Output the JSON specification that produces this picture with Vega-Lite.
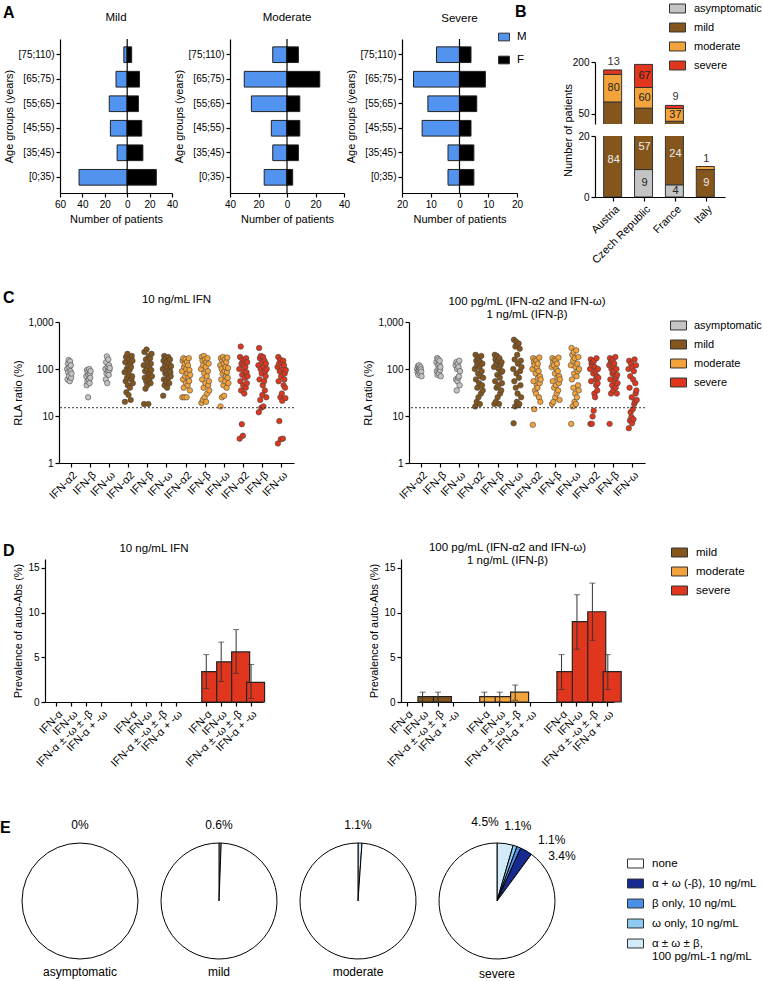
{
"$schema":"https://vega.github.io/schema/vega-lite/v6.json",
"background":"white",
"padding":{"left":0,"top":0,"right":0,"bottom":0},
"config":{
 "font":"Liberation Sans",
 "view":{"stroke":null},
 "axis":{"grid":false,"domainColor":"#000","domainWidth":1.2,"tickColor":"#000","tickWidth":1.2,"tickSize":4,"labelColor":"#000","titleColor":"#000","labelFontSize":10,"titleFontSize":11,"titleFontWeight":"normal","labelPadding":2,"titlePadding":4,"labelOverlap":false,"labelFont":"Liberation Sans","titleFont":"Liberation Sans"},
 "legend":{"labelFont":"Liberation Sans","labelFontSize":11.5,"labelColor":"#000","symbolStrokeColor":"#333","symbolStrokeWidth":1,"rowPadding":4,"labelOffset":8,"symbolType":"M-1,-0.56H1V0.56H-1Z","symbolSize":256},
 "title":{"font":"Liberation Sans","fontSize":11.5,"fontWeight":"normal","color":"#000","offset":5,"lineHeight":13},
 "text":{"font":"Liberation Sans"}
},
"datasets":{
 "pyr":[
  {"s":"Mild","a":"[75;110)","g":"M","n":3},{"s":"Mild","a":"[75;110)","g":"F","n":4},
  {"s":"Mild","a":"[65;75)","g":"M","n":10},{"s":"Mild","a":"[65;75)","g":"F","n":11},
  {"s":"Mild","a":"[55;65)","g":"M","n":16},{"s":"Mild","a":"[55;65)","g":"F","n":10},
  {"s":"Mild","a":"[45;55)","g":"M","n":15},{"s":"Mild","a":"[45;55)","g":"F","n":13},
  {"s":"Mild","a":"[35;45)","g":"M","n":9},{"s":"Mild","a":"[35;45)","g":"F","n":14},
  {"s":"Mild","a":"[0;35)","g":"M","n":43},{"s":"Mild","a":"[0;35)","g":"F","n":26},
  {"s":"Moderate","a":"[75;110)","g":"M","n":10},{"s":"Moderate","a":"[75;110)","g":"F","n":8},
  {"s":"Moderate","a":"[65;75)","g":"M","n":30},{"s":"Moderate","a":"[65;75)","g":"F","n":23},
  {"s":"Moderate","a":"[55;65)","g":"M","n":25},{"s":"Moderate","a":"[55;65)","g":"F","n":9},
  {"s":"Moderate","a":"[45;55)","g":"M","n":11},{"s":"Moderate","a":"[45;55)","g":"F","n":9},
  {"s":"Moderate","a":"[35;45)","g":"M","n":10},{"s":"Moderate","a":"[35;45)","g":"F","n":8},
  {"s":"Moderate","a":"[0;35)","g":"M","n":16},{"s":"Moderate","a":"[0;35)","g":"F","n":4},
  {"s":"Severe","a":"[75;110)","g":"M","n":8},{"s":"Severe","a":"[75;110)","g":"F","n":4},
  {"s":"Severe","a":"[65;75)","g":"M","n":16},{"s":"Severe","a":"[65;75)","g":"F","n":9},
  {"s":"Severe","a":"[55;65)","g":"M","n":11},{"s":"Severe","a":"[55;65)","g":"F","n":6},
  {"s":"Severe","a":"[45;55)","g":"M","n":13},{"s":"Severe","a":"[45;55)","g":"F","n":4},
  {"s":"Severe","a":"[35;45)","g":"M","n":4},{"s":"Severe","a":"[35;45)","g":"F","n":5},
  {"s":"Severe","a":"[0;35)","g":"M","n":4},{"s":"Severe","a":"[0;35)","g":"F","n":5}
 ],
 "cty":[
  {"c":"Austria","sev":"mild","n":84},{"c":"Austria","sev":"moderate","n":80},{"c":"Austria","sev":"severe","n":13},
  {"c":"Czech Republic","sev":"asymptomatic","n":9},{"c":"Czech Republic","sev":"mild","n":57},{"c":"Czech Republic","sev":"moderate","n":60},{"c":"Czech Republic","sev":"severe","n":67},
  {"c":"France","sev":"asymptomatic","n":4},{"c":"France","sev":"mild","n":24},{"c":"France","sev":"moderate","n":37},{"c":"France","sev":"severe","n":9},
  {"c":"Italy","sev":"mild","n":9},{"c":"Italy","sev":"moderate","n":1}
 ],
 "rla":[
  {"p":"a","sev":"asymptomatic","ifn":"IFN-α2","v":[100,60,130,85,155,70,110,55,145,90,120,65,80]},
  {"p":"a","sev":"asymptomatic","ifn":"IFN-β","v":[70,45,95,55,85,25,75,60,100,50,80,65,90]},
  {"p":"a","sev":"asymptomatic","ifn":"IFN-ω","v":[100,60,140,80,185,50,110,90,160,75,120,95,105]},
  {"p":"a","sev":"mild","ifn":"IFN-α2","v":[85,20,140,55,180,32,100,65,210,45,120,28,75,160,95,40,130,22,110,60,190,70,150,50]},
  {"p":"a","sev":"mild","ifn":"IFN-β","v":[120,18,230,65,90,38,160,55,260,100,45,140,75,18,190,110,60,80,170,50,130,95,210,70]},
  {"p":"a","sev":"mild","ifn":"IFN-ω","v":[100,27,150,60,190,45,120,80,170,55,90,140,40,110,75,180,65,130,50,95,160,85,70,115]},
  {"p":"a","sev":"moderate","ifn":"IFN-α2","v":[90,25,150,60,170,40,110,25,130,70,160,50,100,25,140,80,45,120,65,170,55,95,35,75]},
  {"p":"a","sev":"moderate","ifn":"IFN-β","v":[100,19,180,60,150,22,120,40,190,80,25,160,50,110,20,140,70,30,170,90,45,130,55,35]},
  {"p":"a","sev":"moderate","ifn":"IFN-ω","v":[120,16,170,60,100,25,150,80,180,45,130,27,90,160,55,110,70,140,40,85,175,65,105,50]},
  {"p":"a","sev":"severe","ifn":"IFN-α2","v":[100,3.3,180,55,300,35,130,6.7,75,160,3.8,45,120,90,30,150,65,110,40,170,85,50,140,70]},
  {"p":"a","sev":"severe","ifn":"IFN-β","v":[120,12,280,60,170,22,100,190,15,80,140,28,45,180,16,110,55,150,35,90,70,130,25,100]},
  {"p":"a","sev":"severe","ifn":"IFN-ω","v":[110,2.6,180,55,130,7.8,90,160,25,3.2,70,140,30,21,100,3.3,150,45,120,60,80,40,24,95]},
  {"p":"b","sev":"asymptomatic","ifn":"IFN-α2","v":[100,85,115,75,95,120,90,105,80,110,98,88,70]},
  {"p":"b","sev":"asymptomatic","ifn":"IFN-β","v":[140,90,170,75,120,160,100,80,130,150,95,110,70]},
  {"p":"b","sev":"asymptomatic","ifn":"IFN-ω","v":[120,60,140,35,100,55,130,65,110,70,150,45,90]},
  {"p":"b","sev":"mild","ifn":"IFN-α2","v":[100,16,200,60,150,20,120,40,180,80,25,160,50,110,18,140,70,30,190,90,45,130,35,65]},
  {"p":"b","sev":"mild","ifn":"IFN-β","v":[110,18,200,55,160,20,130,40,190,75,25,150,45,100,18,170,65,30,120,85,35,140,50,90]},
  {"p":"b","sev":"mild","ifn":"IFN-ω","v":[100,7,420,55,160,16,300,40,380,80,20,200,30,130,17,350,65,18,270,90,45,150,25,110]},
  {"p":"b","sev":"moderate","ifn":"IFN-α2","v":[100,6.5,170,55,140,14,120,35,160,80,30,150,45,110,40,130,65,90,25,175,50,70,20,60]},
  {"p":"b","sev":"moderate","ifn":"IFN-β","v":[110,18,170,55,140,20,120,40,160,80,25,150,45,100,30,130,65,90,35,175,50,70,22,60]},
  {"p":"b","sev":"moderate","ifn":"IFN-ω","v":[120,6.8,280,60,200,16,150,40,230,80,20,170,30,110,18,250,70,25,130,90,45,180,35,100]},
  {"p":"b","sev":"severe","ifn":"IFN-α2","v":[100,6.8,160,55,130,6.8,120,9.8,140,80,13,150,30,110,25,90,60,45,170,70,35,50,100,65]},
  {"p":"b","sev":"severe","ifn":"IFN-β","v":[120,6.8,170,60,140,30,100,150,45,80,160,35,110,90,130,55,70,180,40,65,100,30,75,50]},
  {"p":"b","sev":"severe","ifn":"IFN-ω","v":[100,5.5,150,40,8,70,12,130,9.5,25,7,110,14,60,8.5,90,18,160,20,50,30,120,35,22]}
 ],
 "prev":[
  {"p":"a","sev":"severe","ifn":"IFN-α","v":3.4,"lo":1.5,"hi":5.3},
  {"p":"a","sev":"severe","ifn":"IFN-ω","v":4.5,"lo":2.3,"hi":6.7},
  {"p":"a","sev":"severe","ifn":"IFN-α ± -ω ± -β","v":5.6,"lo":3.2,"hi":8.1},
  {"p":"a","sev":"severe","ifn":"IFN-α + -ω","v":2.2,"lo":0.4,"hi":4.2},
  {"p":"b","sev":"mild","ifn":"IFN-ω","v":0.6,"lo":0,"hi":1.1},
  {"p":"b","sev":"mild","ifn":"IFN-α ± -ω ± -β","v":0.6,"lo":0,"hi":1.1},
  {"p":"b","sev":"moderate","ifn":"IFN-α","v":0.6,"lo":0,"hi":1.1},
  {"p":"b","sev":"moderate","ifn":"IFN-ω","v":0.6,"lo":0,"hi":1.1},
  {"p":"b","sev":"moderate","ifn":"IFN-α ± -ω ± -β","v":1.1,"lo":0.2,"hi":1.9},
  {"p":"b","sev":"severe","ifn":"IFN-α","v":3.4,"lo":1.4,"hi":5.3},
  {"p":"b","sev":"severe","ifn":"IFN-ω","v":9.0,"lo":5.9,"hi":12.0},
  {"p":"b","sev":"severe","ifn":"IFN-α ± -ω ± -β","v":10.1,"lo":6.9,"hi":13.3},
  {"p":"b","sev":"severe","ifn":"IFN-α + -ω","v":3.4,"lo":1.4,"hi":5.3}
 ],
 "pie":[
  {"s":"asymptomatic","cat":"none","n":100,"o":5},
  {"s":"mild","cat":"α ± ω ± β, 100 pg/mL-1 ng/mL","n":0.6,"o":1},{"s":"mild","cat":"none","n":99.4,"o":5},
  {"s":"moderate","cat":"α ± ω ± β, 100 pg/mL-1 ng/mL","n":1.1,"o":1},{"s":"moderate","cat":"none","n":98.9,"o":5},
  {"s":"severe","cat":"α ± ω ± β, 100 pg/mL-1 ng/mL","n":4.5,"o":1},
  {"s":"severe","cat":"ω only, 10 ng/mL","n":1.1,"o":2},
  {"s":"severe","cat":"β only, 10 ng/mL","n":1.1,"o":3},
  {"s":"severe","cat":"α + ω (-β), 10 ng/mL","n":3.4,"o":4},
  {"s":"severe","cat":"none","n":89.9,"o":5}
 ]
},
"resolve":{"scale":{"color":"independent"},"legend":{"color":"independent"}},
"spacing":40,
"vconcat":[
{
 "spacing":23,
 "resolve":{"scale":{"color":"independent"},"legend":{"color":"independent"}},
 "vconcat":[
 {
  "spacing":-20,
  "resolve":{"scale":{"color":"independent"},"legend":{"color":"independent"}},
  "hconcat":[
  {"width":1,"height":1,"data":{"values":[{}]},"mark":{"type":"text"},"encoding":{"text":{"value":""}}},
  {
  "spacing":-12,
  "resolve":{"scale":{"color":"independent"},"legend":{"color":"independent"}},
  "hconcat":[
   {
    "title":{"text":"A","anchor":"start","fontSize":16,"fontWeight":"bold","offset":-9},
    "spacing":-5,
    "resolve":{"scale":{"color":"independent"},"legend":{"color":"independent"}},
    "hconcat":[
     {"width":112,"height":154,"title":{"text":"Mild","offset":15,"frame":"group"},
      "layer":[
       {"data":{"name":"pyr"},"transform":[{"filter":"datum.s=='Mild'"},{"calculate":"datum.g=='M'?-datum.n:datum.n","as":"x"}],
        "mark":{"type":"bar","stroke":"#222","strokeWidth":1},
        "encoding":{
         "y":{"field":"a","type":"nominal","sort":["[75;110)","[65;75)","[55;65)","[45;55)","[35;45)","[0;35)"],"scale":{"paddingInner":0.36,"paddingOuter":0.32},"axis":{"title":"Age groups (years)","labelAngle":0}},
         "x":{"field":"x","type":"quantitative","scale":{"domain":[-60,40]},"axis":{"values":[-60,-40,-20,0,20,40],"labelExpr":"'' + abs(datum.value)","labelOverlap":false,"labelFlush":false,"title":"Number of patients"}},
         "color":{"field":"g","type":"nominal","scale":{"domain":["M","F"],"range":["#5393f0","#000000"]},"legend":null}}},
       {"data":{"values":[{}]},"mark":{"type":"rule","color":"#000","strokeWidth":1.2},"encoding":{"x":{"datum":0,"type":"quantitative","axis":{"values":[-60,-40,-20,0,20,40],"labelExpr":"'' + abs(datum.value)","labelOverlap":false,"labelFlush":false,"title":"Number of patients"}}}}
      ]},
     {"width":114,"height":154,"title":{"text":"Moderate","offset":15,"frame":"group"},
      "layer":[
       {"data":{"name":"pyr"},"transform":[{"filter":"datum.s=='Moderate'"},{"calculate":"datum.g=='M'?-datum.n:datum.n","as":"x"}],
        "mark":{"type":"bar","stroke":"#222","strokeWidth":1},
        "encoding":{
         "y":{"field":"a","type":"nominal","sort":["[75;110)","[65;75)","[55;65)","[45;55)","[35;45)","[0;35)"],"scale":{"paddingInner":0.36,"paddingOuter":0.32},"axis":{"title":"Age groups (years)","labelAngle":0}},
         "x":{"field":"x","type":"quantitative","scale":{"domain":[-40,40]},"axis":{"values":[-40,-20,0,20,40],"labelExpr":"'' + abs(datum.value)","labelOverlap":false,"labelFlush":false,"title":"Number of patients"}},
         "color":{"field":"g","type":"nominal","scale":{"domain":["M","F"],"range":["#5393f0","#000000"]},"legend":null}}},
       {"data":{"values":[{}]},"mark":{"type":"rule","color":"#000","strokeWidth":1.2},"encoding":{"x":{"datum":0,"type":"quantitative","axis":{"values":[-40,-20,0,20,40],"labelExpr":"'' + abs(datum.value)","labelOverlap":false,"labelFlush":false,"title":"Number of patients"}}}}
      ]},
     {"width":115,"height":154,"title":{"text":"Severe","offset":7,"frame":"group"},
      "layer":[
       {"data":{"name":"pyr"},"transform":[{"filter":"datum.s=='Severe'"},{"calculate":"datum.g=='M'?-datum.n:datum.n","as":"x"}],
        "mark":{"type":"bar","stroke":"#222","strokeWidth":1},
        "encoding":{
         "y":{"field":"a","type":"nominal","sort":["[75;110)","[65;75)","[55;65)","[45;55)","[35;45)","[0;35)"],"scale":{"paddingInner":0.36,"paddingOuter":0.32},"axis":{"title":"Age groups (years)","labelAngle":0}},
         "x":{"field":"x","type":"quantitative","scale":{"domain":[-20,20]},"axis":{"values":[-20,-10,0,10,20],"labelExpr":"'' + abs(datum.value)","labelOverlap":false,"labelFlush":false,"title":"Number of patients"}},
         "color":{"field":"g","type":"nominal","scale":{"domain":["M","F"],"range":["#5393f0","#000000"]},"legend":{"orient":"none","legendX":96,"legendY":-8,"title":null,"symbolType":"M-1,-0.7H1V0.7H-1Z","symbolSize":121,"rowPadding":11,"labelOffset":7}}}},
       {"data":{"values":[{}]},"mark":{"type":"rule","color":"#000","strokeWidth":1.2},"encoding":{"x":{"datum":0,"type":"quantitative","axis":{"values":[-20,-10,0,10,20],"labelExpr":"'' + abs(datum.value)","labelOverlap":false,"labelFlush":false,"title":"Number of patients"}}}}
      ]}
    ]
   },
   {
    "bounds":"flush",
    "spacing":12,
    "resolve":{"scale":{"color":"independent"},"legend":{"color":"independent"}},
    "vconcat":[
     {"width":130,"height":11,"data":{"values":[{}]},"mark":{"type":"text"},"encoding":{"text":{"value":""}}},
     {"width":130,"height":62,
      "title":{"text":"B","anchor":"start","frame":"group","fontSize":16,"fontWeight":"bold","dx":-80,"offset":-20},
      "data":{"name":"cty"},
      "transform":[{"stack":"n","groupby":["c"],"sort":[{"field":"sev","order":"ascending"}],"as":["y0","y1"]},{"calculate":"(datum.y0+datum.y1)/2","as":"mid"}],
      "encoding":{"x":{"field":"c","type":"nominal","sort":["Austria","Czech Republic","France","Italy"],"scale":{"paddingInner":0.35,"paddingOuter":0.28},"axis":null}},
      "layer":[
       {"mark":{"type":"bar","stroke":"#333","strokeWidth":1,"clip":true},
        "encoding":{"y":{"field":"y1","type":"quantitative","scale":{"domain":[20,200]},"axis":{"values":[50,100,150,200],"title":null}},"y2":{"field":"y0"},
         "color":{"field":"sev","type":"nominal","scale":{"domain":["asymptomatic","mild","moderate","severe"],"range":["#c4c4c4","#85561c","#f3a33b","#e0361d"]},"legend":{"orient":"none","legendX":74,"legendY":-62,"title":null,"labelFontSize":11}}}},
       {"transform":[{"filter":"(datum.sev=='moderate'||datum.sev=='severe')&&datum.n>=20"}],"mark":{"type":"text","fontSize":11,"color":"#222"},"encoding":{"y":{"field":"mid","type":"quantitative"},"text":{"field":"n"}}},
       {"transform":[{"filter":"datum.sev=='severe'&&datum.n<20"}],"mark":{"type":"text","fontSize":11,"color":"#333","dy":-8},"encoding":{"y":{"field":"y1","type":"quantitative"},"text":{"field":"n"}}}
      ]},
     {"width":130,"height":61,
      "data":{"name":"cty"},
      "transform":[{"stack":"n","groupby":["c"],"sort":[{"field":"sev","order":"ascending"}],"as":["y0","y1"]},{"calculate":"min((datum.y0+datum.y1)/2,(datum.y0+20)/2+2)","as":"ly"}],
      "encoding":{"x":{"field":"c","type":"nominal","sort":["Austria","Czech Republic","France","Italy"],"scale":{"paddingInner":0.35,"paddingOuter":0.28},"axis":{"title":null,"labelAngle":-45,"labelFontSize":11}}},
      "layer":[
       {"mark":{"type":"bar","stroke":"#333","strokeWidth":1,"clip":true},
        "encoding":{"y":{"field":"y1","type":"quantitative","scale":{"domain":[0,20]},"axis":{"values":[0,5,10,15,20],"title":"Number of patients","titleY":-6}},"y2":{"field":"y0"},
         "color":{"field":"sev","type":"nominal","scale":{"domain":["asymptomatic","mild","moderate","severe"],"range":["#c4c4c4","#85561c","#f3a33b","#e0361d"]},"legend":null}}},
       {"transform":[{"filter":"datum.sev=='asymptomatic'||datum.sev=='mild'"}],"mark":{"type":"text","fontSize":11},"encoding":{"y":{"field":"ly","type":"quantitative"},"text":{"field":"n"},"color":{"condition":{"test":"datum.sev=='mild'","value":"#eeeeee"},"value":"#222222"}}},
       {"transform":[{"filter":"datum.c=='Italy'&&datum.sev=='moderate'"}],"mark":{"type":"text","fontSize":11,"color":"#333","dy":-8},"encoding":{"y":{"field":"y1","type":"quantitative"},"text":{"field":"n"}}}
      ]}
    ]
   }
  ]
  }
  ]
 },
 {
  "title":{"text":"C","anchor":"start","fontSize":16,"fontWeight":"bold","offset":-12,"dx":-10},
  "spacing":-11,
  "resolve":{"scale":{"color":"independent"},"legend":{"color":"independent"}},
  "hconcat":[
  {"width":1,"height":1,"data":{"values":[{}]},"mark":{"type":"text"},"encoding":{"text":{"value":""}}},
  {
  "spacing":67,
  "resolve":{"scale":{"color":"independent"},"legend":{"color":"independent"}},
  "hconcat":[
   {"width":235,"height":141,"title":{"text":["10 ng/mL IFN"," "],"frame":"group","offset":-1},
    "layer":[
     {"data":{"name":"rla"},"transform":[{"filter":"datum.p=='a'"},{"flatten":["v"]},{"calculate":"datum.sev+'|'+datum.ifn","as":"k"},{"window":[{"op":"row_number","as":"rn"}],"groupby":["k"]}],
      "mark":{"type":"circle","size":30,"opacity":1,"stroke":"#444","strokeWidth":0.6},
      "encoding":{
       "x":{"field":"k","type":"nominal","sort":["asymptomatic|IFN-α2","asymptomatic|IFN-β","asymptomatic|IFN-ω","mild|IFN-α2","mild|IFN-β","mild|IFN-ω","moderate|IFN-α2","moderate|IFN-β","moderate|IFN-ω","severe|IFN-α2","severe|IFN-β","severe|IFN-ω"],"scale":{"paddingInner":0.55,"paddingOuter":0.42},"axis":{"title":null,"labelExpr":"split(datum.label,'|')[1]","labelAngle":-45,"labelFontSize":11}},
       "xOffset":{"field":"rn","type":"ordinal"},
       "y":{"field":"v","type":"quantitative","scale":{"type":"log","domain":[1,1000]},"axis":{"values":[1,10,100,1000],"format":",","title":"RLA ratio (%)"}},
       "color":{"field":"sev","type":"nominal","scale":{"domain":["asymptomatic","mild","moderate","severe"],"range":["#c4c4c4","#85561c","#f3a33b","#e0361d"]},"legend":null}}},
     {"data":{"values":[{}]},"mark":{"type":"rule","strokeDash":[2,2],"color":"#333","strokeWidth":1},"encoding":{"y":{"datum":15}}}
    ]},
   {"width":236,"height":141,"title":{"text":["100 pg/mL (IFN-α2 and IFN-ω)","1 ng/mL (IFN-β)"],"frame":"group","offset":-3},
    "layer":[
     {"data":{"name":"rla"},"transform":[{"filter":"datum.p=='b'"},{"flatten":["v"]},{"calculate":"datum.sev+'|'+datum.ifn","as":"k"},{"window":[{"op":"row_number","as":"rn"}],"groupby":["k"]}],
      "mark":{"type":"circle","size":30,"opacity":1,"stroke":"#444","strokeWidth":0.6},
      "encoding":{
       "x":{"field":"k","type":"nominal","sort":["asymptomatic|IFN-α2","asymptomatic|IFN-β","asymptomatic|IFN-ω","mild|IFN-α2","mild|IFN-β","mild|IFN-ω","moderate|IFN-α2","moderate|IFN-β","moderate|IFN-ω","severe|IFN-α2","severe|IFN-β","severe|IFN-ω"],"scale":{"paddingInner":0.55,"paddingOuter":0.42},"axis":{"title":null,"labelExpr":"split(datum.label,'|')[1]","labelAngle":-45,"labelFontSize":11}},
       "xOffset":{"field":"rn","type":"ordinal"},
       "y":{"field":"v","type":"quantitative","scale":{"type":"log","domain":[1,1000]},"axis":{"values":[1,10,100,1000],"format":",","title":"RLA ratio (%)"}},
       "color":{"field":"sev","type":"nominal","scale":{"domain":["asymptomatic","mild","moderate","severe"],"range":["#c4c4c4","#85561c","#f3a33b","#e0361d"]},"legend":{"orient":"none","legendX":261,"legendY":-5,"title":null,"symbolOpacity":1,"labelFontSize":11,"labelOffset":7}}}},
     {"data":{"values":[{}]},"mark":{"type":"rule","strokeDash":[2,2],"color":"#333","strokeWidth":1},"encoding":{"y":{"datum":15}}}
    ]}
  ]
  }
  ]
 }
 ]
},
{
 "spacing":46,
 "resolve":{"scale":{"color":"independent"},"legend":{"color":"independent"}},
 "vconcat":[
 {
  "title":{"text":"D","anchor":"start","fontSize":16,"fontWeight":"bold","offset":-17,"dx":-10},
  "spacing":-11,
  "resolve":{"scale":{"color":"independent"},"legend":{"color":"independent"}},
  "hconcat":[
  {"width":1,"height":1,"data":{"values":[{}]},"mark":{"type":"text"},"encoding":{"text":{"value":""}}},
  {
  "spacing":102,
  "resolve":{"scale":{"color":"independent"},"legend":{"color":"independent"}},
  "hconcat":[
   {"width":218,"height":143,"title":{"text":["10 ng/mL IFN"," "],"offset":-8,"frame":"group"},
    "data":{"name":"prev"},
    "transform":[{"filter":"datum.p=='a'"},{"calculate":"datum.sev+'|'+datum.ifn","as":"k"}],
    "encoding":{"x":{"field":"k","type":"nominal","scale":{"type":"band","domain":["mild|IFN-α","mild|IFN-ω","mild|IFN-α ± -ω ± -β","mild|IFN-α + -ω","s1","moderate|IFN-α","moderate|IFN-ω","moderate|IFN-α ± -ω ± -β","moderate|IFN-α + -ω","s2","severe|IFN-α","severe|IFN-ω","severe|IFN-α ± -ω ± -β","severe|IFN-α + -ω"],"paddingInner":0.4,"paddingOuter":0.5},
      "axis":{"title":null,"values":["mild|IFN-α","mild|IFN-ω","mild|IFN-α ± -ω ± -β","mild|IFN-α + -ω","moderate|IFN-α","moderate|IFN-ω","moderate|IFN-α ± -ω ± -β","moderate|IFN-α + -ω","severe|IFN-α","severe|IFN-ω","severe|IFN-α ± -ω ± -β","severe|IFN-α + -ω"],"labelExpr":"split(datum.label,'|')[1]","labelAngle":-45,"labelFontSize":11}}},
    "layer":[
     {"mark":{"type":"bar","stroke":"#222","strokeWidth":1.2},
      "encoding":{"y":{"field":"v","type":"quantitative","title":"Prevalence of auto-Abs (%)","scale":{"domain":[0,15]},"axis":{"values":[0,5,10,15]}},
       "color":{"field":"sev","type":"nominal","scale":{"domain":["mild","moderate","severe"],"range":["#85561c","#f3a33b","#e0361d"]},"legend":null}}},
     {"mark":{"type":"rule","color":"#333","strokeWidth":1},"encoding":{"y":{"field":"lo","type":"quantitative","title":"Prevalence of auto-Abs (%)"},"y2":{"field":"hi"}}},
     {"mark":{"type":"tick","color":"#333","thickness":1,"size":6},"encoding":{"y":{"field":"lo","type":"quantitative","title":"Prevalence of auto-Abs (%)"}}},
     {"mark":{"type":"tick","color":"#333","thickness":1,"size":6},"encoding":{"y":{"field":"hi","type":"quantitative","title":"Prevalence of auto-Abs (%)"}}}
    ]},
   {"width":213,"height":143,"title":{"text":["100 pg/mL (IFN-α2 and IFN-ω)","1 ng/mL (IFN-β)"],"offset":-22,"frame":"group"},
    "data":{"name":"prev"},
    "transform":[{"filter":"datum.p=='b'"},{"calculate":"datum.sev+'|'+datum.ifn","as":"k"}],
    "encoding":{"x":{"field":"k","type":"nominal","scale":{"type":"band","domain":["mild|IFN-α","mild|IFN-ω","mild|IFN-α ± -ω ± -β","mild|IFN-α + -ω","s1","moderate|IFN-α","moderate|IFN-ω","moderate|IFN-α ± -ω ± -β","moderate|IFN-α + -ω","s2","severe|IFN-α","severe|IFN-ω","severe|IFN-α ± -ω ± -β","severe|IFN-α + -ω"],"paddingInner":0.4,"paddingOuter":0.1},
      "axis":{"title":null,"values":["mild|IFN-α","mild|IFN-ω","mild|IFN-α ± -ω ± -β","mild|IFN-α + -ω","moderate|IFN-α","moderate|IFN-ω","moderate|IFN-α ± -ω ± -β","moderate|IFN-α + -ω","severe|IFN-α","severe|IFN-ω","severe|IFN-α ± -ω ± -β","severe|IFN-α + -ω"],"labelExpr":"split(datum.label,'|')[1]","labelAngle":-45,"labelFontSize":11}}},
    "layer":[
     {"mark":{"type":"bar","stroke":"#222","strokeWidth":1.2},
      "encoding":{"y":{"field":"v","type":"quantitative","title":"Prevalence of auto-Abs (%)","scale":{"domain":[0,15]},"axis":{"values":[0,5,10,15]}},
       "color":{"field":"sev","type":"nominal","scale":{"domain":["mild","moderate","severe"],"range":["#85561c","#f3a33b","#e0361d"]},"legend":{"orient":"none","legendX":270,"legendY":-15,"title":null}}}},
     {"mark":{"type":"rule","color":"#333","strokeWidth":1},"encoding":{"y":{"field":"lo","type":"quantitative","title":"Prevalence of auto-Abs (%)"},"y2":{"field":"hi"}}},
     {"mark":{"type":"tick","color":"#333","thickness":1,"size":6},"encoding":{"y":{"field":"lo","type":"quantitative","title":"Prevalence of auto-Abs (%)"}}},
     {"mark":{"type":"tick","color":"#333","thickness":1,"size":6},"encoding":{"y":{"field":"hi","type":"quantitative","title":"Prevalence of auto-Abs (%)"}}}
    ]}
  ]
  }
  ]
 },
 {
  "title":{"text":"E","anchor":"start","fontSize":16,"fontWeight":"bold","offset":-20,"dx":-20},
  "spacing":19,
  "resolve":{"scale":{"color":"independent","theta":"independent"},"legend":{"color":"independent"}},
  "hconcat":[
   {"width":116,"height":116,"title":{"text":"asymptomatic","orient":"bottom","fontSize":12,"offset":6},
    "layer":[
     {"data":{"name":"pie"},"transform":[{"filter":"datum.s=='asymptomatic'"}],"mark":{"type":"arc","stroke":"#000","strokeWidth":1},
      "encoding":{"theta":{"field":"n","type":"quantitative","stack":true},"order":{"field":"o"},"color":{"field":"cat","type":"nominal","scale":{"domain":["none","α + ω (-β), 10 ng/mL","β only, 10 ng/mL","ω only, 10 ng/mL","α ± ω ± β, 100 pg/mL-1 ng/mL"],"range":["#ffffff","#172a8f","#4b8fe8","#8ccaf2","#d3eaf9"]},"legend":null}}},
     {"data":{"values":[{"t":"0%"}]},"mark":{"type":"text","radius":76,"theta":0,"fontSize":12},"encoding":{"text":{"field":"t"}}}
    ]},
   {"width":116,"height":116,"title":{"text":"mild","orient":"bottom","fontSize":12,"offset":6},
    "layer":[
     {"data":{"name":"pie"},"transform":[{"filter":"datum.s=='mild'"}],"mark":{"type":"arc","stroke":"#000","strokeWidth":1},
      "encoding":{"theta":{"field":"n","type":"quantitative","stack":true},"order":{"field":"o"},"color":{"field":"cat","type":"nominal","scale":{"domain":["none","α + ω (-β), 10 ng/mL","β only, 10 ng/mL","ω only, 10 ng/mL","α ± ω ± β, 100 pg/mL-1 ng/mL"],"range":["#ffffff","#172a8f","#4b8fe8","#8ccaf2","#d3eaf9"]},"legend":null}}},
     {"data":{"values":[{"t":"0.6%"}]},"mark":{"type":"text","radius":76,"theta":0,"fontSize":12},"encoding":{"text":{"field":"t"}}}
    ]},
   {"width":116,"height":116,"title":{"text":"moderate","orient":"bottom","fontSize":12,"offset":6},
    "layer":[
     {"data":{"name":"pie"},"transform":[{"filter":"datum.s=='moderate'"}],"mark":{"type":"arc","stroke":"#000","strokeWidth":1},
      "encoding":{"theta":{"field":"n","type":"quantitative","stack":true},"order":{"field":"o"},"color":{"field":"cat","type":"nominal","scale":{"domain":["none","α + ω (-β), 10 ng/mL","β only, 10 ng/mL","ω only, 10 ng/mL","α ± ω ± β, 100 pg/mL-1 ng/mL"],"range":["#ffffff","#172a8f","#4b8fe8","#8ccaf2","#d3eaf9"]},"legend":null}}},
     {"data":{"values":[{"t":"1.1%"}]},"mark":{"type":"text","radius":76,"theta":0,"fontSize":12},"encoding":{"text":{"field":"t"}}}
    ]},
   {"width":116,"height":116,"title":{"text":"severe","orient":"bottom","fontSize":12,"offset":6},
    "layer":[
     {"data":{"name":"pie"},"transform":[{"filter":"datum.s=='severe'"}],"mark":{"type":"arc","stroke":"#000","strokeWidth":1},
      "encoding":{"theta":{"field":"n","type":"quantitative","stack":true},"order":{"field":"o"},"color":{"field":"cat","type":"nominal","scale":{"domain":["none","α + ω (-β), 10 ng/mL","β only, 10 ng/mL","ω only, 10 ng/mL","α ± ω ± β, 100 pg/mL-1 ng/mL"],"range":["#ffffff","#172a8f","#4b8fe8","#8ccaf2","#d3eaf9"]},
       "legend":{"orient":"none","legendX":188,"legendY":12,"title":null,"rowPadding":5,"labelExpr":"indexof(datum.label,'100 pg')>0 ? ['α ± ω ± β,','100 pg/mL-1 ng/mL'] : datum.label"}}}},
     {"data":{"values":[{"t":"4.5%"}]},"mark":{"type":"text","radius":80,"theta":-0.15,"fontSize":12},"encoding":{"text":{"field":"t"}}},
     {"data":{"values":[{"t":"1.1%"}]},"mark":{"type":"text","radius":78,"theta":0.27,"fontSize":12},"encoding":{"text":{"field":"t"}}},
     {"data":{"values":[{"t":"1.1%"}]},"mark":{"type":"text","radius":82,"theta":0.73,"fontSize":12},"encoding":{"text":{"field":"t"}}},
     {"data":{"values":[{"t":"3.4%"}]},"mark":{"type":"text","radius":79,"theta":0.965,"fontSize":12},"encoding":{"text":{"field":"t"}}}
    ]}
  ]
 }
 ]
}
]
}
